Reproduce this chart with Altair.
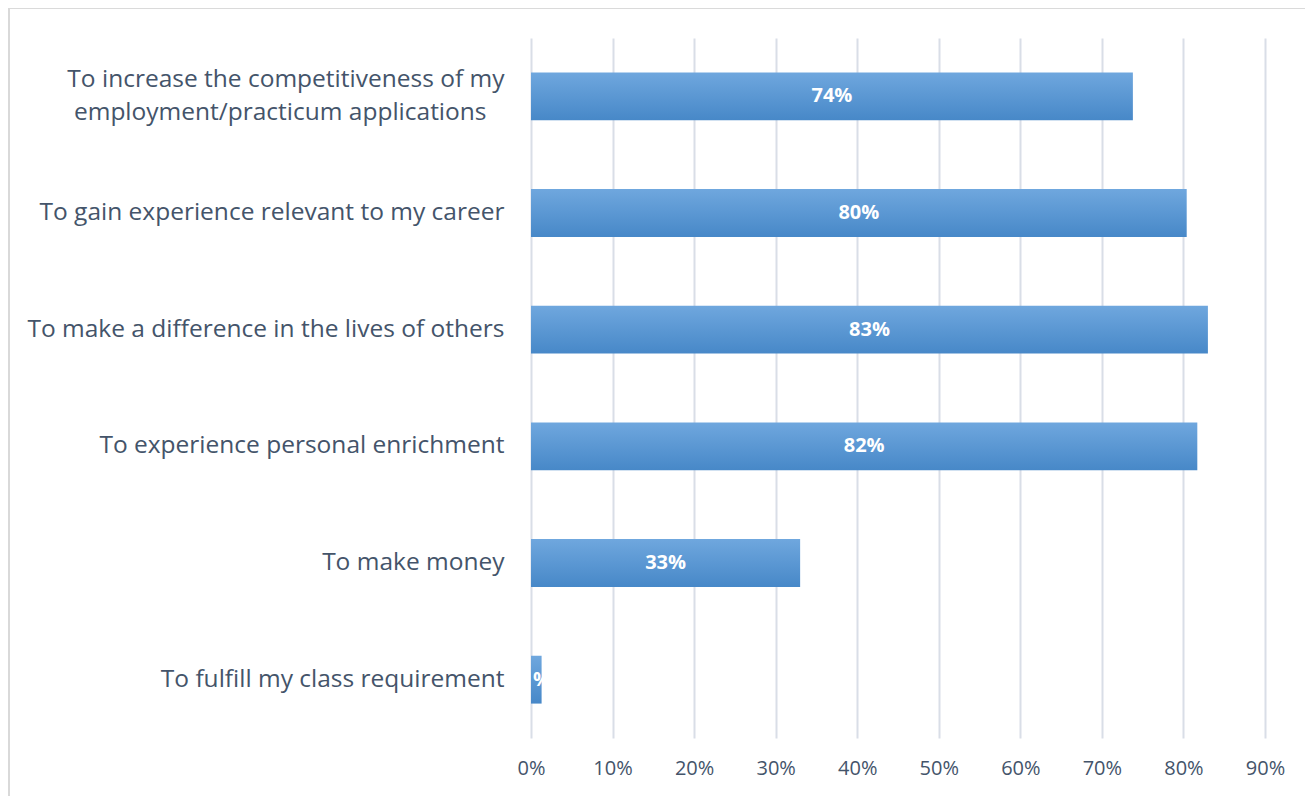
import altair as alt
import pandas as pd

categories = [
    "To increase the competitiveness of my|employment/practicum applications\u2800",
    "To gain experience relevant to my career",
    "To make a difference in the lives of others",
    "To experience personal enrichment",
    "To make money",
    "To fulfill my class requirement",
]
values = [0.738, 0.804, 0.830, 0.817, 0.330, 0.013]

df = pd.DataFrame({"reason": categories, "share": values})

FONT = "Open Sans"
TXT = "#44546a"

y_enc = alt.Y("reason:N", sort=categories, title=None,
              scale=alt.Scale(paddingInner=0.59, paddingOuter=0.295),
              axis=alt.Axis(labelExpr="split(datum.label, '|')", labelFontSize=24.5,
                            labelColor=TXT, labelFont=FONT, labelPadding=27,
                            labelOffset={"expr": "indexof(datum.label, '|') >= 0 ? -16 : 0"},
                            ticks=False, domain=False, grid=False, labelLimit=600,
                            labelLineHeight=33))
x_enc = alt.X("share:Q", title=None,
              scale=alt.Scale(domain=[0, 0.9], nice=False),
              axis=alt.Axis(format=".0%", values=[i / 10 for i in range(10)],
                            labelFontSize=20, labelColor=TXT, labelFont=FONT,
                            labelPadding=20, ticks=False, domain=False, labelFlush=False,
                            grid=True, gridColor="#d9dee7", gridWidth=2))

grad = alt.Gradient(gradient="linear", x1=0, x2=0, y1=0, y2=1,
                    stops=[alt.GradientStop(offset=0, color="#6fa7de"),
                           alt.GradientStop(offset=1, color="#4788c8")])

border = alt.Chart(df).mark_rect(fill=None, stroke="#d9d9d9", strokeWidth=1.2).encode(
    x=alt.value(-522), x2=alt.value(782), y=alt.value(-30), y2=alt.value(790))

bars = alt.Chart(df).mark_bar(color=grad).encode(x=x_enc, y=y_enc)

labels = alt.Chart(df).mark_text(color="white", fontWeight="bold", fontSize=20,
                                 font=FONT).encode(
    x=alt.X("mid:Q"), y=alt.Y("reason:N", sort=categories),
    text=alt.Text("share:Q", format=".0%"))
labels = labels.transform_calculate(mid="datum.share / 2")

chart = alt.layer(bars, labels, border).properties(
    width=734, height=700,
    autosize=alt.AutoSizeParams(type="none"),
    padding={"left": 523, "top": 30, "right": 40, "bottom": 60},
).configure(background="white").configure_view(stroke=None)

chart.save("out.html", embed_options={"renderer": "svg", "actions": False})
